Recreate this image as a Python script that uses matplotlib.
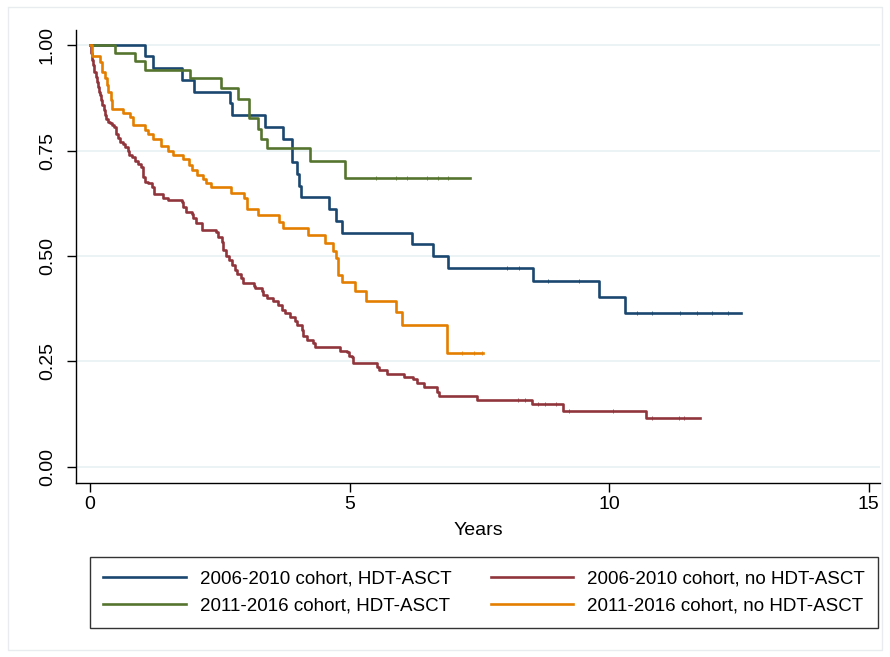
import numpy as np
import matplotlib
matplotlib.use("Agg")
import matplotlib.pyplot as plt
from matplotlib.patches import Rectangle

plt.rcParams['font.family'] = ['Liberation Sans', 'DejaVu Sans']

# Kaplan-Meier step curves: drop times (years) and survival after each drop
blue_t = [0, 1.05, 1.22, 1.78, 2.01, 2.70, 2.73, 3.38, 3.72, 3.89, 3.98, 4.03, 4.07,
          4.60, 4.73, 4.86, 6.20, 6.60, 6.90, 8.53, 9.81, 10.30, 12.54]
blue_s = [1.0, 0.974, 0.945, 0.917, 0.889, 0.862, 0.834, 0.806, 0.778, 0.722, 0.694, 0.667, 0.639,
          0.611, 0.583, 0.555, 0.528, 0.500, 0.472, 0.441, 0.404, 0.364, 0.364]
blue_cens = [8.03, 8.27, 8.82, 9.42, 10.53, 10.82, 11.37, 11.69, 11.98, 12.3]

green_t = [0, 0.48, 0.87, 1.05, 1.93, 2.52, 2.85, 3.07, 3.23, 3.29, 3.40, 4.23, 4.91, 7.32]
green_s = [1.0, 0.980, 0.961, 0.941, 0.921, 0.897, 0.873, 0.826, 0.802, 0.778, 0.755, 0.724, 0.686, 0.686]
green_cens = [5.5, 5.9, 6.1, 6.5, 6.7, 6.9]

orange_t = [0, 0.045, 0.19, 0.225, 0.28, 0.32, 0.35, 0.40, 0.43, 0.64, 0.77, 0.83, 1.05, 1.11,
            1.22, 1.37, 1.50, 1.59, 1.79, 1.91, 1.97, 2.06, 2.18, 2.24, 2.34, 2.71, 2.97, 3.02,
            3.23, 3.64, 3.72, 4.19, 4.53, 4.69, 4.74, 4.77, 4.85, 5.11, 5.32, 5.89, 6.02, 6.87, 7.57]
orange_s = [1.0, 0.974, 0.960, 0.937, 0.921, 0.905, 0.889, 0.870, 0.848, 0.840, 0.829, 0.810, 0.799, 0.788,
            0.777, 0.761, 0.750, 0.740, 0.730, 0.716, 0.704, 0.692, 0.683, 0.672, 0.663, 0.650, 0.637, 0.611,
            0.597, 0.581, 0.566, 0.549, 0.531, 0.513, 0.495, 0.455, 0.438, 0.417, 0.394, 0.368, 0.336, 0.269, 0.269]
orange_cens = [7.16, 7.39, 7.55]

red_t = [0, 0.02, 0.03, 0.065, 0.085, 0.11, 0.13, 0.15, 0.17, 0.19, 0.21, 0.225, 0.26, 0.28, 0.30,
         0.34, 0.385, 0.42, 0.47, 0.495, 0.51, 0.545, 0.58, 0.64, 0.67, 0.73, 0.75, 0.80, 0.87, 0.93,
         0.98, 1.03, 1.06, 1.12, 1.19, 1.23, 1.40, 1.51, 1.77, 1.80, 1.85, 1.96, 1.99, 2.04, 2.15,
         2.43, 2.47, 2.54, 2.57, 2.62, 2.68, 2.73, 2.79, 2.84, 2.90, 2.95, 3.16, 3.18, 3.31, 3.34,
         3.40, 3.53, 3.63, 3.69, 3.76, 3.85, 3.95, 3.99, 4.08, 4.11, 4.18, 4.29, 4.34, 4.82, 4.95,
         4.98, 5.04, 5.06, 5.52, 5.57, 5.72, 6.04, 6.23, 6.29, 6.44, 6.68, 6.73, 7.46, 8.51, 9.11,
         10.71, 11.75]
red_s = [1.0, 0.980, 0.964, 0.953, 0.937, 0.925, 0.913, 0.901, 0.889, 0.882, 0.870, 0.858, 0.846, 0.834, 0.824,
         0.818, 0.814, 0.810, 0.805, 0.797, 0.789, 0.779, 0.771, 0.765, 0.758, 0.750, 0.739, 0.734, 0.726, 0.718,
         0.710, 0.688, 0.676, 0.672, 0.664, 0.648, 0.637, 0.632, 0.628, 0.617, 0.605, 0.600, 0.589, 0.579, 0.562,
         0.558, 0.544, 0.534, 0.514, 0.500, 0.490, 0.479, 0.468, 0.457, 0.447, 0.435, 0.430, 0.424, 0.418, 0.407,
         0.400, 0.394, 0.384, 0.372, 0.364, 0.355, 0.347, 0.336, 0.325, 0.310, 0.301, 0.295, 0.284, 0.276, 0.273,
         0.263, 0.260, 0.247, 0.236, 0.230, 0.220, 0.213, 0.208, 0.200, 0.189, 0.178, 0.168, 0.159, 0.149, 0.133,
         0.115, 0.115]
red_cens = [8.25, 8.38, 8.64, 8.77, 8.98, 9.22, 10.07, 10.82, 11.34, 11.45]

labels = ["2006-2010 cohort, HDT-ASCT", "2011-2016 cohort, HDT-ASCT",
          "2006-2010 cohort, no HDT-ASCT", "2011-2016 cohort, no HDT-ASCT"]
colors = ["#1a476f", "#55752f", "#90353b", "#e37e00"]

fig = plt.figure(figsize=(8.9, 6.57), dpi=100)
fig.patches.append(Rectangle((8 / 890, 7 / 657), 874 / 890, 643 / 657, transform=fig.transFigure,
                             fill=False, edgecolor="#e8ecee", linewidth=1))
ax = fig.add_axes([0.0854, 0.2648, 0.9034, 0.6895])

curves = [(blue_t, blue_s, blue_cens), (green_t, green_s, green_cens),
          (red_t, red_s, red_cens), (orange_t, orange_s, orange_cens)]
handles = []
for (t, s, c), col, lab in zip(curves, colors, labels):
    h, = ax.step(t, s, where='post', color=col, lw=1.9, label=lab, zorder=3)
    handles.append(h)
    idx = np.searchsorted(t, c, side='right') - 1
    ax.plot(c, np.array(s)[idx], linestyle='none', marker='|', markersize=2.5,
            color=col, markeredgewidth=0.7, alpha=0.8, zorder=3)

ax.set_xlim(-0.27, 15.22)
ax.set_ylim(-0.038, 1.0355)
ax.set_yticks([0, 0.25, 0.5, 0.75, 1.0])
ax.set_yticklabels(["0.00", "0.25", "0.50", "0.75", "1.00"], rotation=90, va='center')
ax.set_xticks([0, 5, 10, 15])
ax.grid(axis='y', color='#eaf2f3', linewidth=1.3, zorder=0)
ax.set_axisbelow(True)
for side in ['top', 'right']:
    ax.spines[side].set_visible(False)
ax.spines['left'].set_linewidth(1.0)
ax.spines['bottom'].set_linewidth(1.0)
ax.tick_params(axis='both', length=6.5, width=1.0, labelsize=14)
ax.tick_params(axis='y', pad=8)
ax.tick_params(axis='x', pad=3)
ax.set_xlabel("Years", fontsize=14, labelpad=6)

# column-wise fill: blue, green in the left column; red, orange in the right
leg = fig.legend(handles, labels, ncol=2,
                 loc='lower left', bbox_to_anchor=(0.101, 0.044, 0.886, 0.111), mode='expand',
                 fontsize=13.5, handlelength=4.4, handletextpad=0.75, columnspacing=2.0,
                 frameon=True, fancybox=False, borderaxespad=0, borderpad=0.72, labelspacing=0.53)
leg.get_frame().set_edgecolor('black')
leg.get_frame().set_linewidth(1.0)

fig.savefig("out.png", dpi=100)
